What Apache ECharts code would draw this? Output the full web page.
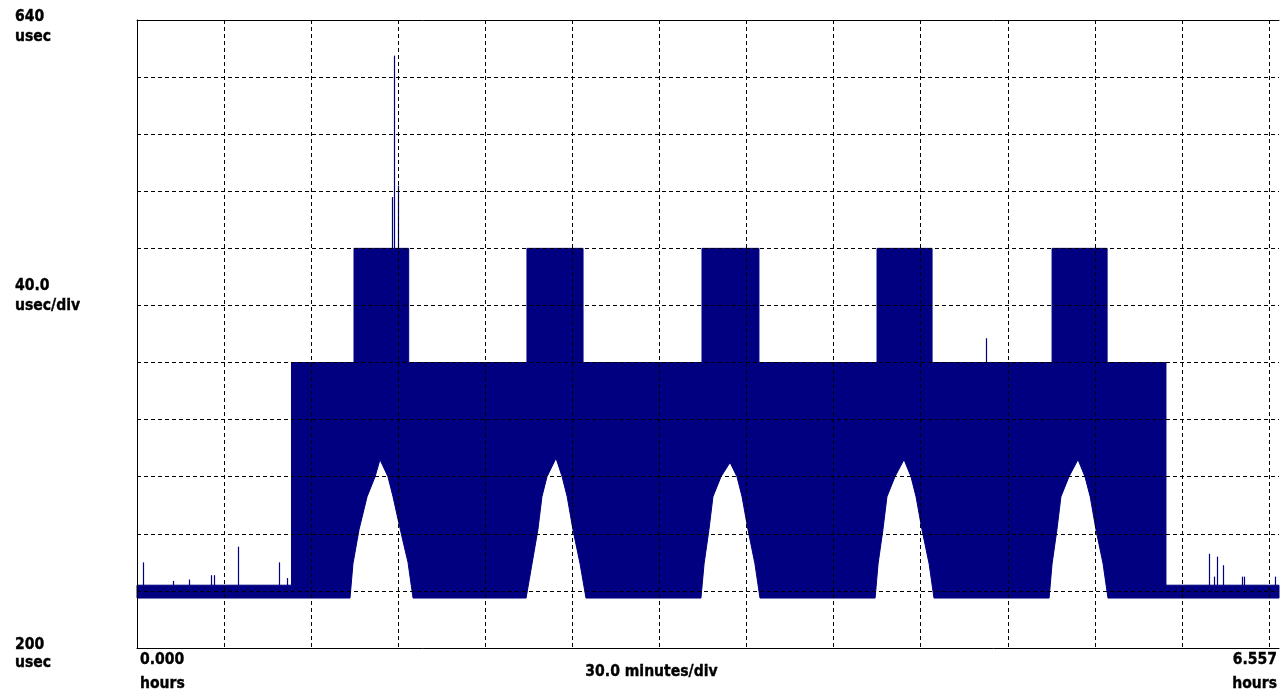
<!DOCTYPE html>
<html>
<head>
<meta charset="utf-8">
<style>
  html, body { margin: 0; padding: 0; background: #fff; }
  #chart { width: 1281px; height: 693px; }
</style>
<script src="https://cdn.jsdelivr.net/npm/echarts@6/dist/echarts.min.js"></script>
</head>
<body>
<div id="chart"></div>
<script>
// Latency trace: min/max envelope of the sampled latency over time
const NAVY = '#000080';

// axis ranges (hours across, microseconds up)
const timeMax = 6.557, timeStep = 0.5;
const usecMin = 200, usecMax = 640, usecStep = 40;

// upper envelope of the trace
const upperTime = [0, 0.887, 0.887, 1.246, 1.246, 1.560, 1.560, 2.239, 2.239, 2.561, 2.561,
  3.244, 3.244, 3.571, 3.571, 4.249, 4.249, 4.565, 4.565, 5.254, 5.254, 5.570, 5.570,
  5.908, 5.908, 6.557];
const upperUsec = [244, 244, 400, 400, 480, 480, 400, 400, 480, 480, 400,
  400, 480, 480, 400, 400, 480, 480, 400, 400, 480, 480, 400,
  400, 244, 244];

// lower envelope of the trace (the raised humps open up below the band)
const lowerTime = [0,
  1.223, 1.240, 1.275, 1.321, 1.367, 1.395, 1.441, 1.470, 1.499, 1.527, 1.556, 1.585,
  2.234, 2.268, 2.302, 2.325, 2.354, 2.406, 2.441, 2.470, 2.503, 2.544, 2.578,
  3.238, 3.256, 3.284, 3.307, 3.353, 3.405, 3.445, 3.474, 3.508, 3.548, 3.577,
  4.238, 4.255, 4.283, 4.306, 4.352, 4.404, 4.444, 4.473, 4.507, 4.548, 4.576,
  5.237, 5.254, 5.282, 5.305, 5.351, 5.403, 5.443, 5.473, 5.506, 5.547, 5.575,
  6.557];
const lowerUsec = [235,
  235, 259, 283, 306, 320, 332, 320, 306, 290, 275, 260, 235,
  235, 259, 283, 306, 320, 333, 320, 306, 283, 259, 235,
  235, 259, 283, 306, 320, 330, 320, 306, 283, 259, 235,
  235, 259, 283, 306, 320, 332, 320, 306, 283, 259, 235,
  235, 259, 283, 306, 320, 332, 320, 306, 283, 259, 235,
  235];

// isolated spikes: time, start and peak in usec
const spikeTime = [0.034, 0.207, 0.299, 0.425, 0.442, 0.580, 0.815, 0.861,
  1.464, 1.473, 1.499, 4.875,
  6.155, 6.184, 6.201, 6.236, 6.345, 6.356, 6.535];
const spikeFrom = [244, 244, 244, 244, 244, 244, 244, 244,
  480, 480, 480, 400,
  244, 244, 244, 244, 244, 244, 244];
const spikeTo = [260, 247, 248, 251, 251, 271, 260, 249,
  516, 615, 524, 417,
  266, 250, 264, 258, 250, 250, 250];

// scale annotations
const yTopLabel = ['640', 'usec'];
const yDivLabel = ['40.0', 'usec/div'];
const yBottomLabel = ['200', 'usec'];
const xStartLabel = ['0.000', 'hours'];
const xDivLabel = '30.0 minutes/div';
const xEndLabel = ['6.557', 'hours'];

const FONT = 'bold 14px "DejaVu Sans"';
function txt(text, x, y, align) {
  return {
    type: 'text', x: x, y: y, z: 100, scaleY: 1.18,
    style: {
      text: text, font: FONT, fill: '#000', stroke: '#000', lineWidth: 0.35,
      align: align || 'left', verticalAlign: 'middle'
    }
  };
}

const dash = { color: '#000', width: 1, type: [4, 3] };

const chart = echarts.init(document.getElementById('chart'), null, { renderer: 'canvas' });
chart.setOption({
  backgroundColor: '#fff',
  animation: false,
  grid: { left: 137, right: 2, top: 20, bottom: 45 },
  xAxis: [{
    type: 'value', min: 0, max: timeMax, interval: timeStep, position: 'bottom', z: 10,
    axisLine: { show: true, onZero: false, lineStyle: { color: '#000', width: 1 } },
    axisTick: { show: false }, axisLabel: { show: false },
    splitLine: { show: true, showMinLine: false, showMaxLine: false, lineStyle: dash }
  }, {
    type: 'value', min: 0, max: timeMax, interval: timeStep, position: 'top', z: 10,
    axisLine: { show: true, onZero: false, lineStyle: { color: '#000', width: 1 } },
    axisTick: { show: false }, axisLabel: { show: false }, splitLine: { show: false }
  }],
  yAxis: {
    type: 'value', min: usecMin, max: usecMax, interval: usecStep, z: 10,
    axisLine: { show: true, onZero: false, lineStyle: { color: '#000', width: 1 } },
    axisTick: { show: false }, axisLabel: { show: false },
    splitLine: { show: true, showMinLine: false, showMaxLine: false, lineStyle: dash }
  },
  series: [{
    type: 'custom',
    name: 'envelope',
    data: [[0, usecMin]],
    encode: { x: 0, y: 1 },
    renderItem: function (params, api) {
      if (params.dataIndex !== 0) return;
      const pts = [];
      for (let i = 0; i < upperTime.length; i++) pts.push(api.coord([upperTime[i], upperUsec[i]]));
      for (let i = lowerTime.length - 1; i >= 0; i--) pts.push(api.coord([lowerTime[i], lowerUsec[i]]));
      return { type: 'polygon', shape: { points: pts }, style: { fill: NAVY, stroke: NAVY, lineWidth: 1 } };
    }
  }, {
    type: 'custom',
    name: 'spikes',
    data: spikeTime.map((t, i) => [t, spikeFrom[i], spikeTo[i]]),
    encode: { x: 0, y: [1, 2] },
    renderItem: function (params, api) {
      const a = api.coord([api.value(0), api.value(1)]);
      const b = api.coord([api.value(0), api.value(2)]);
      const x = Math.round(a[0]) + 0.5;
      return { type: 'line', shape: { x1: x, y1: a[1], x2: x, y2: b[1] }, style: { stroke: NAVY, lineWidth: 1.2 } };
    }
  }],
  graphic: [
    txt(yTopLabel[0], 15, 17), txt(yTopLabel[1], 15, 36.5),
    txt(yDivLabel[0], 15, 286), txt(yDivLabel[1], 15, 306),
    txt(yBottomLabel[0], 15, 644.5), txt(yBottomLabel[1], 15, 663),
    txt(xStartLabel[0], 140, 660), txt(xStartLabel[1], 140, 683.5),
    txt(xDivLabel, 651.5, 671.5, 'center'),
    txt(xEndLabel[0], 1277, 659.5, 'right'), txt(xEndLabel[1], 1277, 683.5, 'right')
  ]
});
</script>
</body>
</html>
